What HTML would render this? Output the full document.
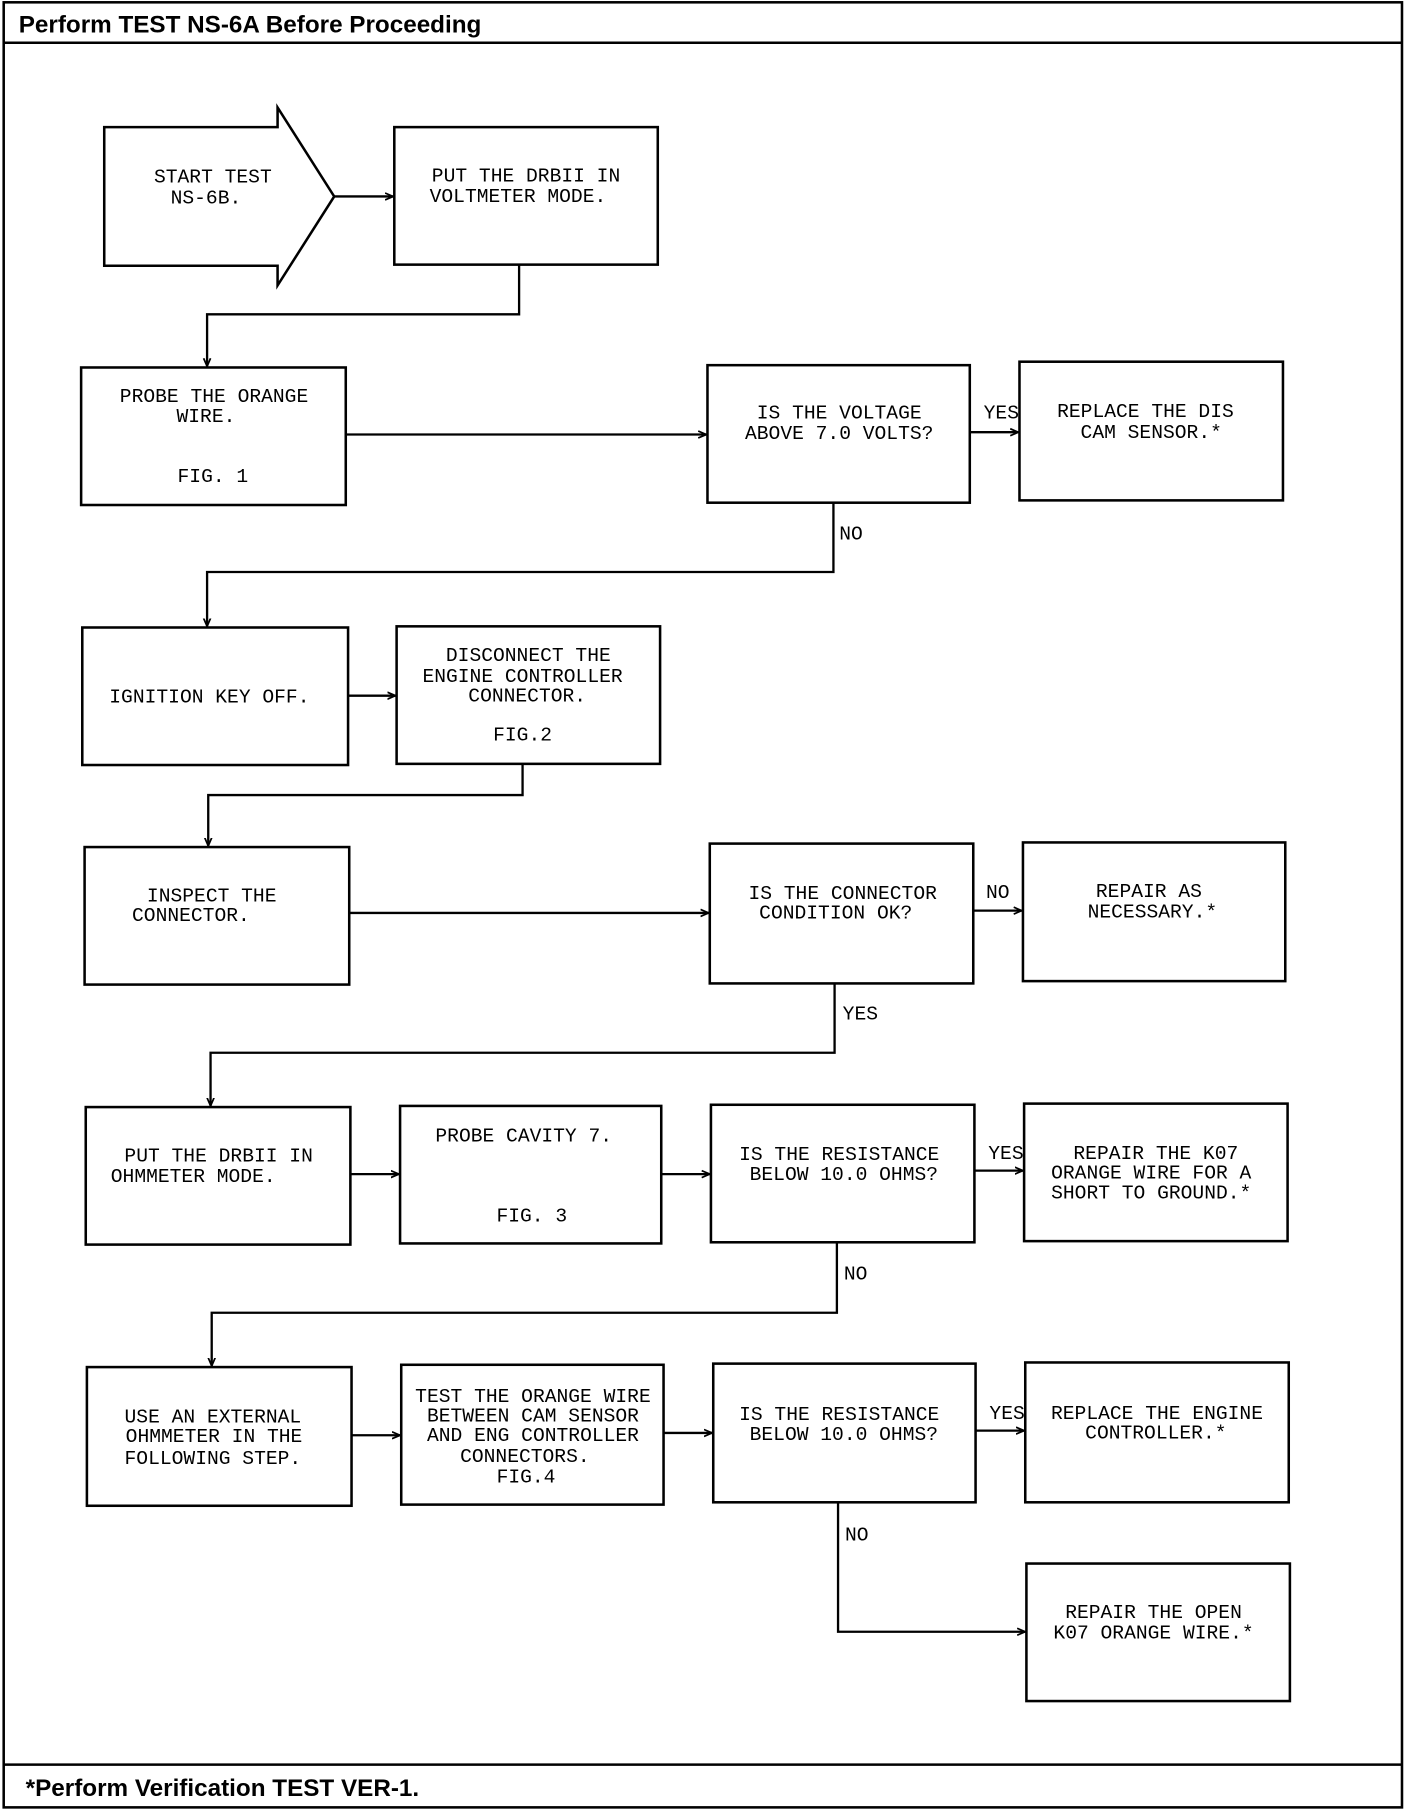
<!DOCTYPE html>
<html><head><meta charset="utf-8"><style>
html,body{margin:0;padding:0;background:#fff;}
svg{display:block;}
.t{font-family:"Liberation Mono",monospace;font-size:17px;fill:#000;text-anchor:middle;}
.l{font-family:"Liberation Mono",monospace;font-size:17px;fill:#000;}
.h{font-family:"Liberation Sans",sans-serif;font-weight:bold;font-size:21px;fill:#000;}
</style></head><body>
<svg width="1408" height="1812" viewBox="0 0 1218 1568" xmlns="http://www.w3.org/2000/svg">
<defs><marker id="a" markerWidth="8" markerHeight="8" refX="7" refY="4" orient="auto" markerUnits="userSpaceOnUse"><path d="M0,1 L7,4 L0,7" fill="none" stroke="#000" stroke-width="1.5"/></marker></defs>
<g fill="none" stroke="#000" stroke-width="2.2">
<rect x="3" y="2" width="1210" height="1562"/>
<line x1="3" y1="37" x2="1213" y2="37"/>
<line x1="3" y1="1527" x2="1213" y2="1527"/>
<polygon points="90,110 240,110 240,93 289,170 240,247 240,230 90,230"/>
<rect x="341" y="110" width="228" height="119"/>
<rect x="70" y="318" width="229" height="119"/>
<rect x="612" y="316" width="227" height="119"/>
<rect x="882" y="313" width="228" height="120"/>
<rect x="71" y="543" width="230" height="119"/>
<rect x="343" y="542" width="228" height="119"/>
<rect x="73" y="733" width="229" height="119"/>
<rect x="614" y="730" width="228" height="121"/>
<rect x="885" y="729" width="227" height="120"/>
<rect x="74" y="958" width="229" height="119"/>
<rect x="346" y="957" width="226" height="119"/>
<rect x="615" y="956" width="228" height="119"/>
<rect x="886" y="955" width="228" height="119"/>
<rect x="75" y="1183" width="229" height="120"/>
<rect x="347" y="1181" width="227" height="121"/>
<rect x="617" y="1180" width="227" height="120"/>
<rect x="887" y="1179" width="228" height="121"/>
<rect x="888" y="1353" width="228" height="119"/>
</g>
<g fill="none" stroke="#000" stroke-width="2" marker-end="url(#a)">
<line x1="289" y1="170" x2="340" y2="170"/>
<polyline points="449,229 449,272 179,272 179,317"/>
<line x1="299" y1="376" x2="611" y2="376"/>
<line x1="839" y1="374" x2="881" y2="374"/>
<polyline points="721,435 721,495 179,495 179,542"/>
<line x1="301" y1="602" x2="342" y2="602"/>
<polyline points="452,661 452,688 180,688 180,732"/>
<line x1="302" y1="790" x2="613" y2="790"/>
<line x1="842" y1="788" x2="884" y2="788"/>
<polyline points="722,851 722,911 182,911 182,957"/>
<line x1="303" y1="1016" x2="345" y2="1016"/>
<line x1="572" y1="1016" x2="614" y2="1016"/>
<line x1="843" y1="1013" x2="885" y2="1013"/>
<polyline points="724,1075 724,1136 183,1136 183,1182"/>
<line x1="304" y1="1242" x2="346" y2="1242"/>
<line x1="574" y1="1240" x2="616" y2="1240"/>
<line x1="844" y1="1238" x2="886" y2="1238"/>
<polyline points="725,1300 725,1412 887,1412"/>
</g>
<text class="h" x="16" y="28">Perform TEST NS-6A Before Proceeding</text>
<text class="h" x="22" y="1554">*Perform Verification TEST VER-1.</text>
<g class="t">
<text x="184" y="158">START TEST</text><text x="178" y="176">NS-6B.</text>
<text x="455" y="157">PUT THE DRBII IN</text><text x="448" y="175">VOLTMETER MODE.</text>
<text x="185" y="348">PROBE THE ORANGE</text><text x="178" y="365">WIRE.</text><text x="184" y="417">FIG. 1</text>
<text x="726" y="362">IS THE VOLTAGE</text><text x="726" y="380">ABOVE 7.0 VOLTS?</text>
<text x="991" y="361">REPLACE THE DIS</text><text x="996" y="379">CAM SENSOR.*</text>
<text x="181" y="608">IGNITION KEY OFF.</text>
<text x="457" y="572">DISCONNECT THE</text><text x="452" y="590">ENGINE CONTROLLER</text><text x="456" y="607">CONNECTOR.</text><text x="452" y="641">FIG.2</text>
<text x="183" y="780">INSPECT THE</text><text x="165" y="797">CONNECTOR.</text>
<text x="729" y="778">IS THE CONNECTOR</text><text x="723" y="795">CONDITION OK?</text>
<text x="994" y="776">REPAIR AS</text><text x="997" y="794">NECESSARY.*</text>
<text x="189" y="1005">PUT THE DRBII IN</text><text x="167" y="1023">OHMMETER MODE.</text>
<text x="453" y="988">PROBE CAVITY 7.</text><text x="460" y="1057">FIG. 3</text>
<text x="726" y="1004">IS THE RESISTANCE</text><text x="730" y="1021">BELOW 10.0 OHMS?</text>
<text x="1000" y="1003">REPAIR THE K07</text><text x="996" y="1020">ORANGE WIRE FOR A</text><text x="996" y="1037">SHORT TO GROUND.*</text>
<text x="184" y="1231">USE AN EXTERNAL</text><text x="185" y="1248">OHMMETER IN THE</text><text x="184" y="1267">FOLLOWING STEP.</text>
<text x="461" y="1213">TEST THE ORANGE WIRE</text><text x="461" y="1230">BETWEEN CAM SENSOR</text><text x="461" y="1247">AND ENG CONTROLLER</text><text x="454" y="1265">CONNECTORS.</text><text x="455" y="1283">FIG.4</text>
<text x="726" y="1229">IS THE RESISTANCE</text><text x="730" y="1246">BELOW 10.0 OHMS?</text>
<text x="1001" y="1228">REPLACE THE ENGINE</text><text x="1000" y="1245">CONTROLLER.*</text>
<text x="998" y="1400">REPAIR THE OPEN</text><text x="998" y="1418">K07 ORANGE WIRE.*</text>
</g>
<g class="l">
<text x="851" y="362">YES</text><text x="726" y="467">NO</text>
<text x="853" y="777">NO</text><text x="729" y="882">YES</text>
<text x="855" y="1003">YES</text><text x="730" y="1107">NO</text>
<text x="856" y="1228">YES</text><text x="731" y="1333">NO</text>
</g>
</svg>
</body></html>
